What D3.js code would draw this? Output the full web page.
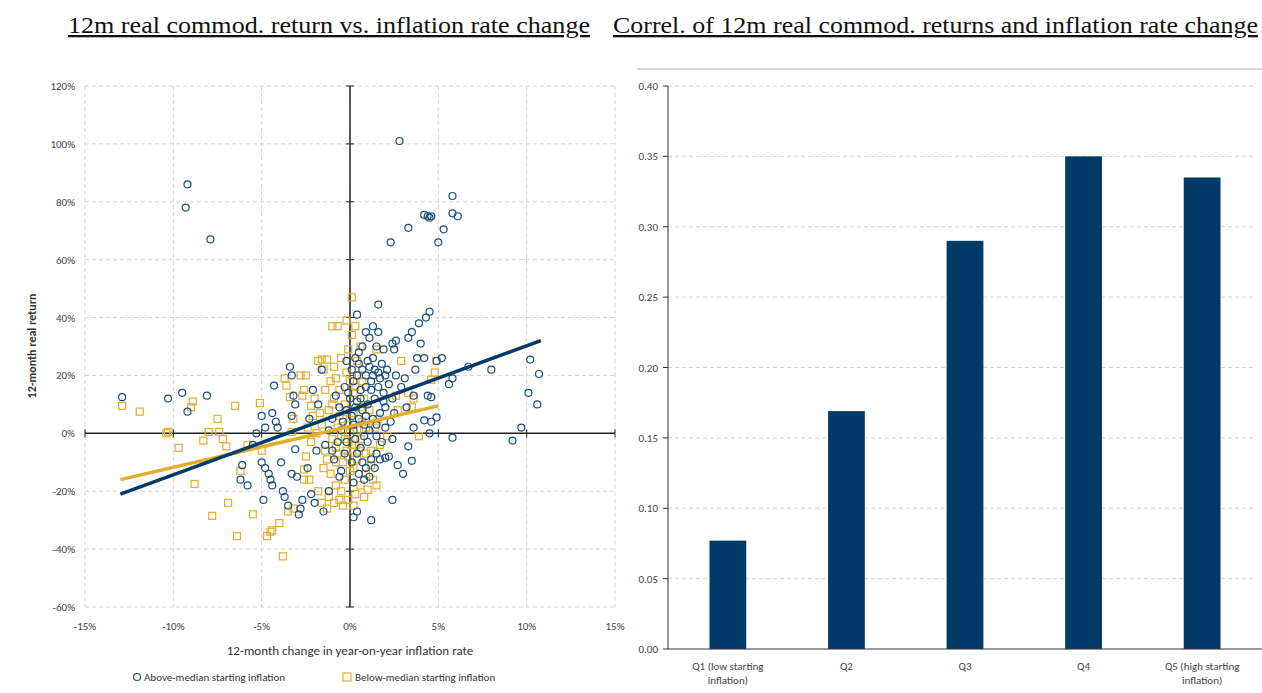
<!DOCTYPE html>
<html><head><meta charset="utf-8">
<script src="https://cdn.jsdelivr.net/npm/d3@7"></script>
<style>
body{margin:0;background:#fff;}
svg{font-family:Calibri,"Liberation Sans",Arial,sans-serif;}
.ttl{font-family:"Liberation Serif","DejaVu Serif",serif;font-size:23px;text-decoration:underline;fill:#111;}
.tk{font-size:11px;fill:#444;}
</style></head><body>
<div id="chart"></div>
<script>
// 산점도: 높은 시작 인플레이션 (x: 인플레이션 변화 %, y: 실질수익 %)
const above = [
[-9.2,86],[-9.3,78],[-7.9,67],[2.8,101],[5.8,82],[4.2,75.5],[4.4,75],[4.6,75],[4.5,74.5],[5.8,76],[6.1,75],[3.3,71],[5.3,70.5],[2.3,66],[5,66],
[-12.9,12.5],[-10.3,12],[-9.5,14],[-9.2,7.5],[-8.1,13],[-5,6],[-4.8,2],[-4.4,7],[-4.2,4],[-4.1,2],[-4.3,16.5],[-3.4,23],[-3.3,20],[-3.2,13],[-3.1,10],[-3.3,6],
[-5.3,0],[-5.5,-4],[-5,-10],[-4.8,-12],[-4.6,-14],[-4.5,-16],[-4.4,-18],[-4.9,-23],[-6.1,-11],[-6.2,-16],[-5.8,-18],[-3.9,-10],[-3.8,-20],[-3.7,-22],[-3.5,-25],
[-3.3,-14],[-3,-15],[-2.8,-26],[-2.7,-23],[-2.9,-28],[-3.1,-5.5],[-2.4,-12],[-2.2,-21],[-2,-24],[-1.9,-6],[-2.1,15],[-2.3,5],[-1.8,10],[-1.6,22],[-1.5,-27],[-1.2,-20],[-0.8,13],[-1,5],
[-0.2,25],[0.1,22],[0.3,26],[0.5,24],[0.2,18],[-0.3,16],[0.6,15],[0.9,20],[1.1,23],[1.3,26],[1.2,18],[1.6,21],[1.8,24],[2.1,22],[2.2,17],[1.9,14],[1.4,12],[1,10],
[0.7,8],[0.4,11],[0.1,6],[-0.4,4],[-0.6,9],[0.8,3],[1.3,5],[1.7,7],[2,9],[2.4,12],[0.3,-2],[0.6,-5],[1,-3],[1.2,-9],[0.9,-12],[0.5,-14],[0.1,-10],[-0.3,-7],
[-0.7,-3],[-0.9,-9],[-0.5,-13],[-1.2,1],[-1.4,-4],[0.2,1],[0.7,30],[1.5,30],[1.1,33],[0.5,28],[-0.1,14],[2.6,20],[2.9,16],[2.3,4],[1.8,-3],[1.1,-15],[0.8,-16],
[0.4,20],[0.7,22],[1,25],[1.4,22],[1.7,19],[2,20],[1.2,15],[0.9,16],[0.6,12],[0.3,9],[0,12],[-0.2,8],[0.5,5],[1.1,1],[1.5,3],[1.9,11],[2.5,7],[0.4,-7],[0.7,-10],
[1.4,-12],[0.2,-17],[-0.2,-3],[-0.5,1],[-1,-6],[-0.6,-15],[0.8,-1],[1.6,16],[1.3,20],[0.2,3],[0.9,6],
[5.6,17],[5.8,19],[5.2,26],[4.9,25],[4.5,42],[4.3,40],[3.9,38],[4,31],[3.5,35],[3.3,33],[2.6,32],[2.4,31],[2.5,29],[1.6,44.5],[0.4,41],[0.9,35],[1.3,37],[1.6,35],[1.9,29],
[4.6,12.5],[4.4,13],[4.9,5.5],[4.6,4],[4.2,4.5],[4.5,0],[3.6,2],[3.5,-9.5],[3.3,-4.5],[3,-14],[2.7,-11],[2.4,-2],[2.4,-23],[1.2,-30],[0.2,-29],[0.4,-27],[5.8,-1.5],
[6.7,23],[8,22],[10.2,25.5],[10.7,20.5],[10.1,14],[10.6,10],[9.7,2],[9.2,-2.5],[3.7,22],[3.8,26],[4.2,26],[3.1,19],[3.6,13],[3.2,9],[2,2],[1.5,-1],[1.5,-7],[1.7,-9],[2,-8.5],[2.2,-8]
];
// 낮은 시작 인플레이션
const below = [
[-12.9,9.5],[-11.9,7.5],[-10.3,0.5],[-10.4,0],[-9.7,-5],[-8.9,11],[-9,9],[-8.8,-17.5],[-8.3,-2.5],[-8,0.5],[-7.5,5],[-7.4,0.5],[-7.2,-2],[-7,-4.5],[-6.5,9.5],
[-6.9,-24],[-7.8,-28.5],[-6.4,-35.5],[-5.5,-28],[-5.1,10.5],[-4.7,-35.5],[-4.5,-34],[-4.4,-33.5],[-4,-31],[-3.8,-42.5],[-3.5,-27],[-3.2,-26],[-3.7,19],[-3.6,16.5],
[-3.4,12.5],[-3.2,5],[-3.3,0.5],[-2.8,20],[-2.5,20],[-2.6,15],[-2.7,13],[-2.6,-12.5],[-2.6,-16],[-2.3,-16],[-2.2,9.5],[-2.1,6],[-1.8,25],[-1.6,25.5],[-1.5,22],
[-1.3,25.5],[-1.1,18],[-1,37],[-0.7,37],[-0.5,26],[-0.8,19],[-1.3,-26],[-1.6,-24],[-0.8,-18],[-0.5,-20],[-0.6,-23],[-0.4,-25],[-0.1,-23],[0.2,-25],[0.3,-21],
[0.6,-18],[1,-19.5],[1.5,-18],[-0.2,39],[0.1,47],[0.1,34],[0.3,37],[0.6,30],[1.5,29],[2.9,25],[3.3,14],[3.6,12],[2.6,13],[2.7,8],[3.5,9],[3.9,-1],[4.6,18.5],
[4.8,21],[4.9,25],[-5.8,-4],[-6.2,-13],[-5,-6],
[-0.9,12],[-0.6,15],[-0.3,10],[0,18],[0.2,14],[0.5,20],[0.8,12],[1.1,8],[-1.2,8],[-1.6,3],[-1.9,0],[-2.2,-3],[-1.4,-6],[-1,-2],[-0.7,2],[-0.4,5],[0,0],
[0.3,-4],[0.6,-2],[0.9,-7],[1.2,-11],[0.4,-9],[0,-13],[-0.3,-16],[-0.8,-10],[-1.1,-14],[-1.5,-12],[-1.8,-20],[-1.2,-22],[-0.2,-6],[0.7,4],[1.4,2],[1.7,-4],
[-0.5,-1],[-0.1,3],[0.2,7],[-2,12],[-2.4,2],[-0.8,-5],[0.9,-14],[1.3,-16],[-0.9,23],[0.4,25],
[-0.4,-10],[-0.1,-8],[0.2,-12],[0.5,-6],[-0.7,-7],[-1.3,-9],[-0.3,-2],[0.1,-4],[0.4,1],[-0.6,6],[-1,10],[0.6,9],[0.9,2],[-0.2,21],[0.3,16],[-1.4,15],
[-1.7,7],[-2.5,-8],[1.2,-6],[0.8,-22],[-0.9,-24],[1.6,5],[2.1,-1],[-0.1,29],[0.7,18]
];
const trendAbove = [[-13,-21],[10.8,32]];
const trendBelow = [[-13,-16],[5,9.5]];
const xTicks = [-15,-10,-5,0,5,10,15];
const yTicks = [-60,-40,-20,0,20,40,60,80,100,120];

// 막대: 분위별 상관계수
const quintiles = ["Q1 (low starting inflation)","Q2","Q3","Q4","Q5 (high starting inflation)"];
const correl = [0.077,0.169,0.29,0.35,0.335];
const barTicks = [0,0.05,0.1,0.15,0.2,0.25,0.3,0.35,0.4];

const W=1262,H=693;
const svg=d3.select("#chart").append("svg").attr("width",W).attr("height",H);
const blue="#1d4f7c", gold="#e3ad2e", navy="#003a66";

svg.append("text").attr("class","ttl").attr("x",68).attr("y",33)
  .attr("textLength",522).attr("lengthAdjust","spacingAndGlyphs")
  .text("12m real commod. return vs. inflation rate change");
svg.append("text").attr("class","ttl").attr("x",613).attr("y",33)
  .attr("textLength",645).attr("lengthAdjust","spacingAndGlyphs")
  .text("Correl. of 12m real commod. returns and inflation rate change");

// ---- scatter ----
const x=d3.scaleLinear().domain([-15,15]).range([85,615]);
const y=d3.scaleLinear().domain([-60,120]).range([607,86]);
const g=svg.append("g");
g.selectAll("line.gx").data(xTicks).enter().append("line")
  .attr("x1",d=>x(d)).attr("x2",d=>x(d)).attr("y1",y(120)).attr("y2",y(-60))
  .attr("stroke","#d4d4d4").attr("stroke-dasharray","4,3");
g.selectAll("line.gy").data(yTicks).enter().append("line")
  .attr("y1",d=>y(d)).attr("y2",d=>y(d)).attr("x1",x(-15)).attr("x2",x(15))
  .attr("stroke","#d4d4d4").attr("stroke-dasharray","4,3");
g.selectAll("text.xl").data(xTicks).enter().append("text").attr("class","tk")
  .attr("x",d=>x(d)).attr("y",630).attr("text-anchor","middle").text(d=>d+"%");
g.selectAll("text.yl").data(yTicks).enter().append("text").attr("class","tk")
  .attr("x",75).attr("y",d=>y(d)+4).attr("text-anchor","end").text(d=>d+"%");
// zero axes
g.append("line").attr("x1",x(-15)).attr("x2",x(15)).attr("y1",y(0)).attr("y2",y(0)).attr("stroke","#222").attr("stroke-width",1.5);
g.append("line").attr("x1",x(0)).attr("x2",x(0)).attr("y1",y(120)).attr("y2",y(-60)).attr("stroke","#222").attr("stroke-width",1.5);
g.selectAll("line.tx").data(xTicks).enter().append("line").attr("x1",d=>x(d)).attr("x2",d=>x(d)).attr("y1",y(0)-4).attr("y2",y(0)+4).attr("stroke","#222");
g.selectAll("line.ty").data(yTicks).enter().append("line").attr("y1",d=>y(d)).attr("y2",d=>y(d)).attr("x1",x(0)-4).attr("x2",x(0)+4).attr("stroke","#222");

g.selectAll("rect.b").data(below).enter().append("rect")
  .attr("x",d=>x(d[0])-3.5).attr("y",d=>y(d[1])-3.5).attr("width",7).attr("height",7)
  .attr("fill","none").attr("stroke",gold).attr("stroke-width",1.2);
g.selectAll("circle.a").data(above).enter().append("circle")
  .attr("cx",d=>x(d[0])).attr("cy",d=>y(d[1])).attr("r",3.5)
  .attr("fill","none").attr("stroke",blue).attr("stroke-width",1.2);
const ln=d3.line().x(d=>x(d[0])).y(d=>y(d[1]));
g.append("path").attr("d",ln(trendBelow)).attr("stroke",gold).attr("stroke-width",3.5).attr("fill","none");
g.append("path").attr("d",ln(trendAbove)).attr("stroke",navy).attr("stroke-width",3.5).attr("fill","none");

g.append("text").attr("x",350).attr("y",655).attr("text-anchor","middle").attr("font-size",13).attr("fill","#333")
  .text("12-month change in year-on-year inflation rate");
g.append("text").attr("transform","translate(36,346) rotate(-90)").attr("text-anchor","middle")
  .attr("font-size",12).attr("font-weight","bold").attr("fill","#333").text("12-month real return");
// legend
g.append("circle").attr("cx",137).attr("cy",677).attr("r",3.5).attr("fill","none").attr("stroke",blue).attr("stroke-width",1.2);
g.append("text").attr("x",144).attr("y",681).attr("font-size",11).attr("fill","#333").text("Above-median starting inflation");
g.append("rect").attr("x",343).attr("y",673).attr("width",8).attr("height",8).attr("fill","none").attr("stroke",gold).attr("stroke-width",1.2);
g.append("text").attr("x",355).attr("y",681).attr("font-size",11).attr("fill","#333").text("Below-median starting inflation");

// ---- bars ----
const bx=d3.scaleBand().domain(quintiles).range([668,1262]).paddingInner(0.69).paddingOuter(0.35);
const by=d3.scaleLinear().domain([0,0.4]).range([649,86]);
const g2=svg.append("g");
g2.append("line").attr("x1",637).attr("x2",1262).attr("y1",69).attr("y2",69).attr("stroke","#ccc").attr("stroke-width",1.5);
g2.selectAll("line.gy").data(barTicks.slice(1)).enter().append("line")
  .attr("x1",668).attr("x2",1255).attr("y1",d=>by(d)).attr("y2",d=>by(d))
  .attr("stroke","#d4d4d4").attr("stroke-dasharray","4,3");
g2.selectAll("rect").data(correl).enter().append("rect")
  .attr("x",(d,i)=>bx(quintiles[i])).attr("width",bx.bandwidth())
  .attr("y",d=>by(d)).attr("height",d=>by(0)-by(d)).attr("fill",navy);
g2.append("line").attr("x1",668).attr("x2",668).attr("y1",86).attr("y2",649).attr("stroke","#333");
g2.append("line").attr("x1",668).attr("x2",1262).attr("y1",649).attr("y2",649).attr("stroke","#333");
g2.selectAll("line.t").data(barTicks).enter().append("line").attr("x1",663).attr("x2",668)
  .attr("y1",d=>by(d)).attr("y2",d=>by(d)).attr("stroke","#333");
g2.selectAll("text.yl").data(barTicks).enter().append("text").attr("class","tk")
  .attr("x",658).attr("y",d=>by(d)+4).attr("text-anchor","end").text(d=>d.toFixed(2));
quintiles.forEach((q,i)=>{
  const cx=bx(q)+bx.bandwidth()/2;
  const parts=q.indexOf("(")>0?[q.slice(0,q.indexOf("starting")+8),q.slice(q.indexOf("starting")+9)]:[q];
  const t=g2.append("text").attr("class","tk").attr("text-anchor","middle").attr("x",cx).attr("y",670);
  parts.forEach((p,j)=>t.append("tspan").attr("x",cx).attr("dy",j?14:0).text(p));
});
</script></body></html>
